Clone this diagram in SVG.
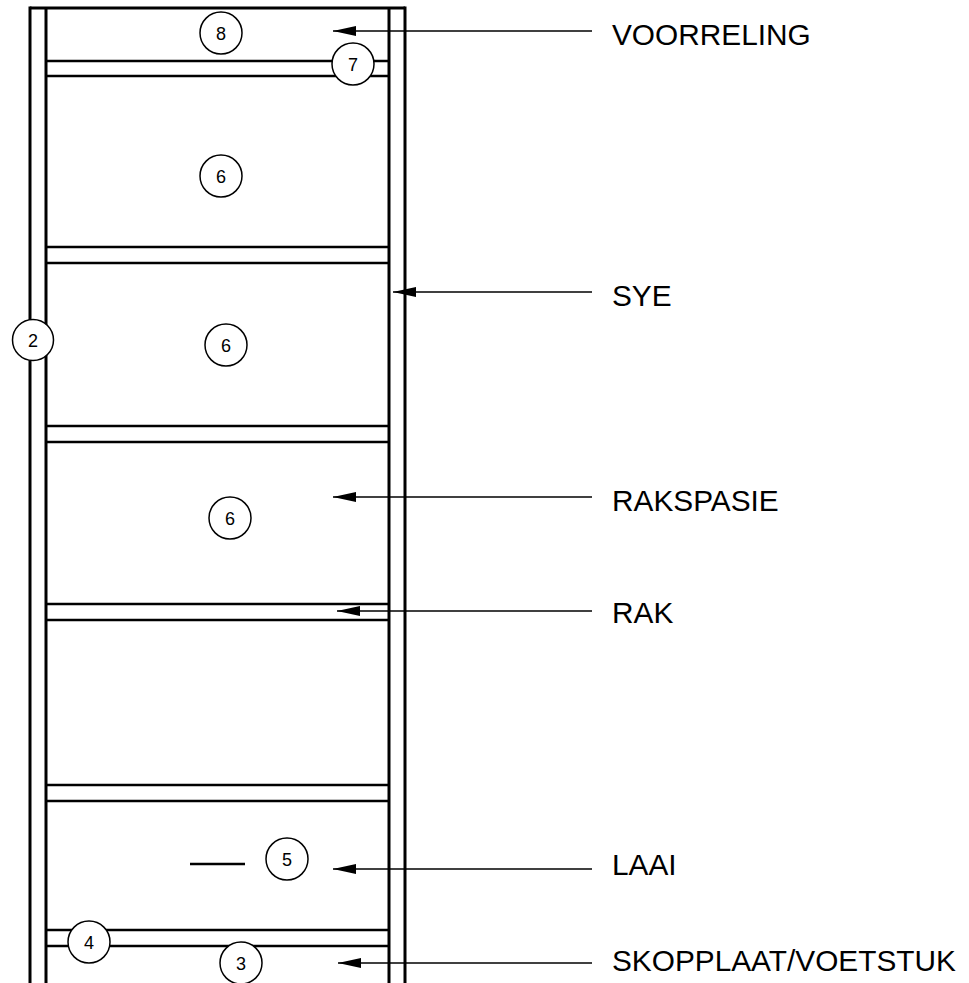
<svg xmlns="http://www.w3.org/2000/svg" width="969" height="983" viewBox="0 0 969 983">
  <style>
    .frame { stroke: #000; stroke-width: 3; fill: none; }
    .shelf { stroke: #000; stroke-width: 2.6; fill: none; }
    .arrow { stroke: #000; stroke-width: 1.6; fill: none; marker-end: url(#head); }
    .tag circle { fill: #fff; stroke: #000; stroke-width: 1.5; }
    .tag text { font-family: "Liberation Sans", Arial, sans-serif; font-size: 18px; text-anchor: middle; fill: #000; }
    .label { font-family: "Liberation Sans", Arial, sans-serif; font-size: 29.8px; fill: #000; }
  </style>
  <defs>
    <marker id="head" markerUnits="userSpaceOnUse" markerWidth="24" markerHeight="12" refX="23" refY="5" orient="auto">
      <path d="M0,0 L23,5 L0,10 Z" fill="#000"/>
    </marker>
  </defs>
  <rect width="969" height="983" fill="#fff"/>

  <g id="cabinet">
    <line class="frame" x1="30" y1="8" x2="405" y2="8"/>
    <line class="frame" x1="30" y1="6.5" x2="30" y2="983"/>
    <line class="frame" x1="46" y1="8" x2="46" y2="983"/>
    <line class="frame" x1="389" y1="8" x2="389" y2="983"/>
    <line class="frame" x1="405" y1="6.5" x2="405" y2="983"/>
    <line class="shelf" x1="46" y1="61" x2="389" y2="61"/>
    <line class="shelf" x1="46" y1="76" x2="389" y2="76"/>
    <line class="shelf" x1="46" y1="247" x2="389" y2="247"/>
    <line class="shelf" x1="46" y1="263" x2="389" y2="263"/>
    <line class="shelf" x1="46" y1="426" x2="389" y2="426"/>
    <line class="shelf" x1="46" y1="442" x2="389" y2="442"/>
    <line class="shelf" x1="46" y1="604" x2="389" y2="604"/>
    <line class="shelf" x1="46" y1="620" x2="389" y2="620"/>
    <line class="shelf" x1="46" y1="785" x2="389" y2="785"/>
    <line class="shelf" x1="46" y1="801" x2="389" y2="801"/>
    <line class="shelf" x1="46" y1="930" x2="389" y2="930"/>
    <line class="shelf" x1="46" y1="946" x2="389" y2="946"/>
    <line class="shelf" x1="190" y1="864" x2="245" y2="864"/>
  </g>

  <g id="connectors">
    <line class="arrow" x1="592" y1="31" x2="333" y2="31"/>
    <line class="arrow" x1="592" y1="292" x2="393" y2="292"/>
    <line class="arrow" x1="592" y1="497" x2="333" y2="497"/>
    <line class="arrow" x1="592" y1="611" x2="337" y2="611"/>
    <line class="arrow" x1="592" y1="869" x2="333" y2="869"/>
    <line class="arrow" x1="592" y1="963" x2="338" y2="963"/>
  </g>

  <g id="node-8" class="tag"><circle cx="221" cy="33" r="21"/><text x="221" y="39.5">8</text></g>
  <g id="node-7" class="tag"><circle cx="353" cy="64" r="21"/><text x="353" y="70.5">7</text></g>
  <g id="node-6a" class="tag"><circle cx="221" cy="176" r="21"/><text x="221" y="182.5">6</text></g>
  <g id="node-2" class="tag"><circle cx="33" cy="340" r="20.5"/><text x="33" y="346.5">2</text></g>
  <g id="node-6b" class="tag"><circle cx="226" cy="345" r="21"/><text x="226" y="351.5">6</text></g>
  <g id="node-6c" class="tag"><circle cx="230" cy="518" r="21"/><text x="230" y="524.5">6</text></g>
  <g id="node-5" class="tag"><circle cx="287" cy="859" r="21"/><text x="287" y="865.5">5</text></g>
  <g id="node-4" class="tag"><circle cx="89" cy="942" r="21"/><text x="89" y="948.5">4</text></g>
  <g id="node-3" class="tag"><circle cx="241" cy="963" r="21"/><text x="241" y="969.5">3</text></g>

  <g id="labels">
    <text class="label" x="612" y="45">VOORRELING</text>
    <text class="label" x="612" y="306">SYE</text>
    <text class="label" x="612" y="511">RAKSPASIE</text>
    <text class="label" x="612" y="623">RAK</text>
    <text class="label" x="612" y="875">LAAI</text>
    <text class="label" x="612" y="971">SKOPPLAAT/VOETSTUK</text>
  </g>
</svg>
